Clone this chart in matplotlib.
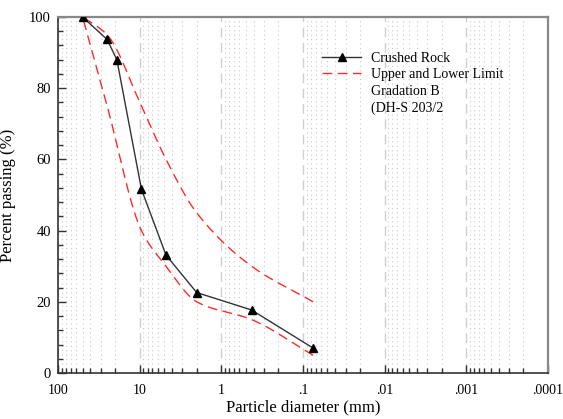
import numpy as np
import matplotlib
matplotlib.use("Agg")
import matplotlib.pyplot as plt
from matplotlib.lines import Line2D
from matplotlib.ticker import FixedLocator, FixedFormatter, NullFormatter

plt.rcParams['font.family'] = ['Liberation Serif', 'DejaVu Serif']

# ---- data ----
rock_size = [50, 25, 19, 9.5, 4.75, 2.0, 0.425, 0.075]
rock_pass = [100, 93.7, 88, 51.6, 33.1, 22.6, 17.7, 7.0]

limit_size = [50, 25, 9.5, 4.75, 2.0, 0.425, 0.075]
upper_pass = [100, 95, 75, 60, 45, 30, 20]
lower_pass = [100, 75, 40, 30, 20, 15, 5]

x_ticks = [100, 10, 1, 0.1, 0.01, 0.001, 0.0001]
x_ticklabels = ['100', '10', '1', '.1', '.01', '.001', '.0001']
y_ticks = [0, 20, 40, 60, 80, 100]


def smooth(xs, ys, n=200):
    """Monotone cubic (Fritsch-Carlson) drawing of a curve through the points, in log-x space."""
    lx = np.log10(np.asarray(xs, float))
    y = np.asarray(ys, float)
    order = np.argsort(lx)
    lx, y = lx[order], y[order]
    h = np.diff(lx)
    d = np.diff(y) / h
    m = np.zeros_like(y)
    m[0], m[-1] = d[0], d[-1]
    for i in range(1, len(y) - 1):
        if d[i - 1] * d[i] <= 0:
            m[i] = 0
        else:
            w1 = 2 * h[i] + h[i - 1]
            w2 = h[i] + 2 * h[i - 1]
            m[i] = (w1 + w2) / (w1 / d[i - 1] + w2 / d[i])
    t_all = np.linspace(lx[0], lx[-1], n)
    out = np.empty_like(t_all)
    for k, t in enumerate(t_all):
        i = min(np.searchsorted(lx, t, side='right') - 1, len(h) - 1)
        s = (t - lx[i]) / h[i]
        h00 = 2 * s**3 - 3 * s**2 + 1
        h10 = s**3 - 2 * s**2 + s
        h01 = -2 * s**3 + 3 * s**2
        h11 = s**3 - s**2
        out[k] = h00 * y[i] + h10 * h[i] * m[i] + h01 * y[i + 1] + h11 * h[i] * m[i + 1]
    return 10 ** t_all, out


fig = plt.figure(figsize=(5.63, 4.19), dpi=100)
ax = fig.add_axes([0.103, 0.1098, 0.870, 0.8496])

ax.set_xscale('log')
ax.set_xlim(100, 0.0001)
ax.set_ylim(0, 100)

# grid
ax.xaxis.set_major_locator(FixedLocator(x_ticks))
ax.xaxis.set_major_formatter(FixedFormatter(x_ticklabels))
minor = [m * 10.0 ** e for e in range(-4, 2) for m in range(2, 10)]
ax.xaxis.set_minor_locator(FixedLocator(minor))
ax.xaxis.set_minor_formatter(NullFormatter())
ax.grid(which='major', axis='x', color='#cfcfcf', linestyle=(0, (7, 4)), linewidth=1.0)
ax.grid(which='minor', axis='x', color='#c8c8c8', linestyle=(0, (1, 3)), linewidth=0.8)
ax.set_axisbelow(True)

ax.yaxis.set_major_locator(FixedLocator(y_ticks))
ax.yaxis.set_minor_locator(FixedLocator([v for v in range(0, 101, 4) if v % 20 != 0]))

ax.tick_params(which='major', direction='in', length=6, width=1, color='#333333',
               labelsize=10.5, top=False, right=False)
ax.tick_params(which='minor', direction='in', length=3.5, width=1, color='#333333',
               top=False, right=False)
ax.tick_params(axis='x', which='major', pad=8)
ax.tick_params(axis='y', which='major', pad=5)
ax.tick_params(axis='x', which='major', labelsize=10)

for s in ['left', 'bottom']:
    ax.spines[s].set_color('#333333')
    ax.spines[s].set_linewidth(1.2)
for s in ['top', 'right']:
    ax.spines[s].set_color('#888888')
    ax.spines[s].set_linewidth(1.6)

# curves
ux, uy = smooth(limit_size, upper_pass)
lx_, ly = smooth(limit_size, lower_pass)
lim_line, = ax.plot(ux, uy, color='#ff2a2a', linestyle=(0, (7, 4)), linewidth=1.0)
ax.plot(lx_, ly, color='#ff2a2a', linestyle=(0, (7, 4)), linewidth=1.0)
rock_line, = ax.plot(rock_size, rock_pass, color='#333333', linewidth=1.0, marker='^',
                     markersize=6, markerfacecolor='black', markeredgecolor='black',
                     zorder=3)

blank = Line2D([], [], linestyle='none', marker=None)
leg = ax.legend([rock_line, lim_line, blank, blank],
                ['Crushed Rock', 'Upper and Lower Limit', 'Gradation B', '(DH-S 203/2'],
                loc='upper left', bbox_to_anchor=(0.528, 0.918), frameon=False,
                fontsize=10, handlelength=2.8, handletextpad=0.7, labelspacing=0.25,
                borderaxespad=0)

ax.set_xlabel('Particle diameter (mm)', fontsize=12, labelpad=2)
ax.set_ylabel('Percent passing (%)', fontsize=12)
ax.yaxis.set_label_coords(-0.086, 0.5)

fig.savefig('out.png', dpi=100)
